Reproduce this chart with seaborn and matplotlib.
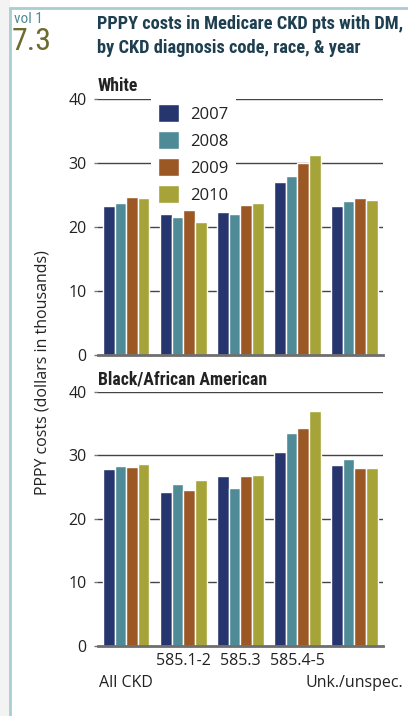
import numpy as np
import pandas as pd
import matplotlib
matplotlib.use("Agg")
import matplotlib.pyplot as plt
import seaborn as sns
from matplotlib import font_manager
from matplotlib.lines import Line2D
from matplotlib.patches import Rectangle

categories = ["All CKD", "585.1-2", "585.3", "585.4-5", "Unk./unspec."]
upper_labels = ["", "585.1-2", "585.3", "585.4-5", ""]
lower_labels = ["All CKD", "Unk./unspec."]
years = ["2007", "2008", "2009", "2010"]

white = {
    "2007": [23.3, 22.05, 22.4, 27.1, 23.3],
    "2008": [23.8, 21.6, 22.05, 28.0, 24.1],
    "2009": [24.7, 22.7, 23.5, 30.0, 24.6],
    "2010": [24.6, 20.8, 23.8, 31.3, 24.2],
}
black = {
    "2007": [27.9, 24.3, 26.8, 30.5, 28.5],
    "2008": [28.3, 25.5, 24.9, 33.5, 29.4],
    "2009": [28.2, 24.6, 26.8, 34.3, 28.0],
    "2010": [28.65, 26.1, 26.9, 37.0, 28.0],
}

palette = ["#27356F", "#4F8B97", "#9C5824", "#A6A338"]

sns.set_theme(style="white")

# look for a condensed face for the headings, else fall back to Lato
names = {f.name for f in font_manager.fontManager.ttflist}
narrow = None
for cand in ["Roboto Condensed", "Liberation Sans Narrow", "Open Sans Condensed",
             "Noto Sans Condensed", "DejaVu Sans Condensed"]:
    if cand in names:
        narrow = cand
        break
if narrow is None:
    for f in font_manager.fontManager.ttflist:
        if "Condensed" in f.name or "Narrow" in f.name:
            narrow = f.name
            break
scale = 1.0
if narrow is None:
    narrow = "Lato"
    scale = 0.78
plt.rcParams["font.family"] = ["Open Sans", "DejaVu Sans"]


def to_long(d):
    rows = []
    for y in years:
        for c, v in zip(categories, d[y]):
            rows.append({"code": c, "year": y, "cost": v})
    return pd.DataFrame(rows)


fig = plt.figure(figsize=(4.08, 7.16), dpi=100)
fig.patch.set_facecolor("white")

# page frame
fig.patches.append(Rectangle((0, 0), 10 / 408, 1, transform=fig.transFigure,
                             facecolor="#F3F3F3", edgecolor="none", zorder=0))
fig.lines.append(Line2D([10 / 408, 1], [1 - 8 / 716, 1 - 8 / 716], transform=fig.transFigure,
                        color="#A9CDD3", lw=2))
fig.lines.append(Line2D([10 / 408, 10 / 408], [0, 1 - 8 / 716], transform=fig.transFigure,
                        color="#A9CDD3", lw=2))

ax1 = fig.add_axes([0.2395, 0.5042, 0.699, 0.3575])
ax2 = fig.add_axes([0.2395, 0.0978, 0.699, 0.355])

for ax, d, race in [(ax1, white, "White"), (ax2, black, "Black/African American")]:
    df = to_long(d)
    sns.barplot(data=df, x="code", y="cost", hue="year", palette=palette,
                width=0.815, gap=0, saturation=1, ax=ax, legend=(ax is ax1), zorder=3)
    ax.set_ylim(0, 40)
    ax.set_xlim(-0.5, 4.5)
    ax.set_yticks([0, 10, 20, 30, 40])
    ax.set_xlabel("")
    ax.set_ylabel("")
    for s in ["top", "right", "left"]:
        ax.spines[s].set_visible(False)
    ax.spines["bottom"].set_color("#6E6E6E")
    ax.spines["bottom"].set_linewidth(2)
    ax.spines["bottom"].set_zorder(4)
    for yv in [10, 20, 30, 40]:
        ax.axhline(yv, color="#444444", lw=1, zorder=1)
    ax.tick_params(axis="y", length=3, width=1, color="#777777", labelsize=11.5,
                   labelcolor="#222222", pad=5, left=True)
    ax.tick_params(axis="x", which="both", length=0, labelsize=11.5, labelcolor="#222222")
    ax.text(0, 1.014, race, transform=ax.transAxes, fontsize=12.8 * scale, fontweight="bold",
            family=narrow, color="#222222", ha="left", va="bottom")

ax1.set_xticklabels([])
ax2.xaxis.remove_overlapping_locs = False
ax2.set_xticks(range(len(categories)))
ax2.set_xticklabels(upper_labels)
ax2.tick_params(axis="x", which="major", pad=5)
ax2.set_xticks([0, 4], minor=True)
ax2.set_xticklabels(lower_labels, minor=True)
ax2.tick_params(axis="x", which="minor", pad=21, labelsize=11.5, labelcolor="#222222")

leg = ax1.legend(loc="upper left", bbox_to_anchor=(0.156, 1.042), frameon=True,
                 facecolor="white", edgecolor="none", framealpha=1, fancybox=False,
                 fontsize=12, handlelength=1.25, handleheight=1.3, labelspacing=0.5,
                 handletextpad=0.66, borderpad=0.45)
leg.set_zorder(5)
for t in leg.get_texts():
    t.set_color("#222222")

fig.text(0.105, 1 - 373 / 716, "PPPY costs (dollars in thousands)", rotation=90,
         fontsize=11.5, color="#222222", ha="center", va="center")

fig.text(97 / 408, 1 - 15 / 716, "PPPY costs in Medicare CKD pts with DM,\nby CKD diagnosis code, race, & year",
         family=narrow, fontweight="bold", fontsize=13.2 * scale, color="#1E3F50",
         ha="left", va="top", linespacing=1.4 / scale)
fig.text(14 / 408, 1 - 23 / 716, "vol 1", family=narrow, fontsize=11 * scale, color="#4E8A96",
         ha="left", va="baseline")
fig.text(12 / 408, 1 - 50 / 716, "7.3", family=narrow, fontsize=23 * scale, color="#6D6B2E",
         ha="left", va="baseline")

fig.savefig("out.png", dpi=100)
